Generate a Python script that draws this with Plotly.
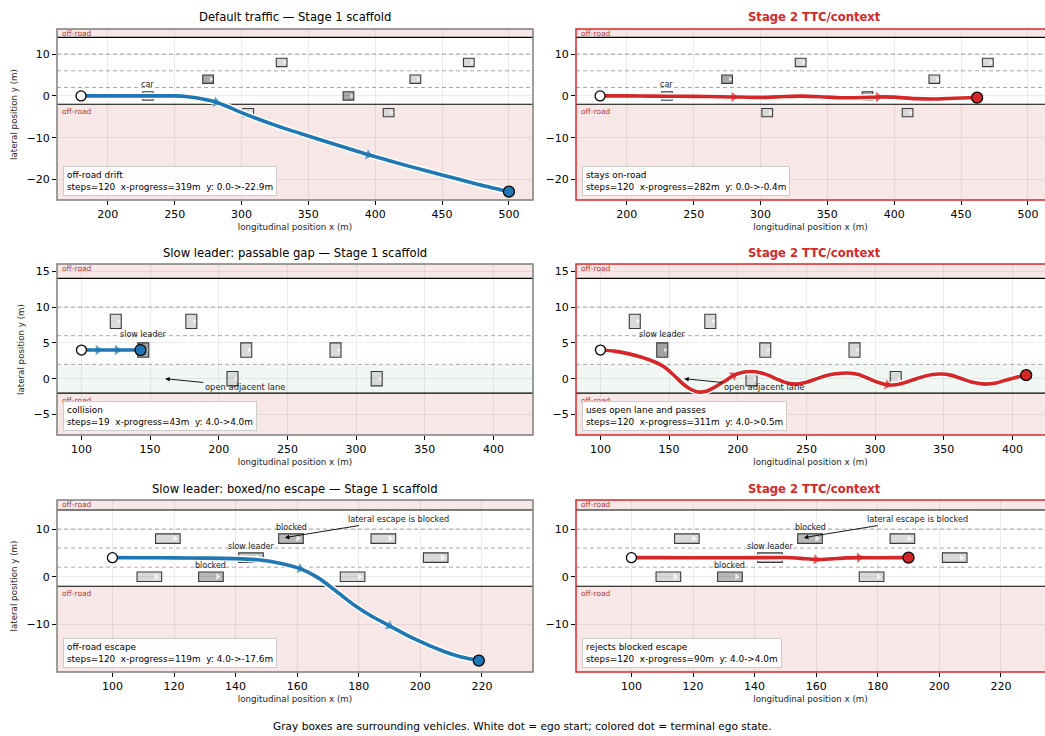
import plotly.graph_objects as go

# ------------------------------------------------------------------ data
BLUE = "#1f77b4"
RED = "#d62728"

# --- scenario 1: default traffic
s1_veh_x = [230, 275, 305, 330, 380, 410, 430, 470]
s1_veh_y = [0, 4, -4, 8, 0, -4, 4, 8]
s1_veh_role = ["other", "near", "other", "other", "near", "other", "other", "other"]
s1_lab_text = ["car"]
s1_lab_x = [230]
s1_lab_y = [2.7]
s1_a_x = [180, 200, 220, 240, 250, 260, 270, 281, 290, 300, 325, 350, 375, 395, 425, 450, 475, 500]
s1_a_y = [0, 0, 0, 0, 0, -0.2, -0.7, -1.5, -2.6, -4.0, -7.0, -9.6, -12.1, -14.1, -16.8, -18.9, -21.0, -22.9]
s1_a_arrows = [7, 13]
s1_b_x = [180, 200, 220, 240, 260, 280, 300, 315, 330, 345, 360, 375, 388, 400, 415, 430, 445, 462]
s1_b_y = [0, 0, -0.05, -0.1, -0.15, -0.25, -0.35, -0.2, -0.05, -0.2, -0.45, -0.4, -0.25, -0.3, -0.65, -0.75, -0.55, -0.4]
s1_b_arrows = [5, 12]

# --- scenario 2: slow leader, passable gap
s2_veh_x = [125, 180, 145, 220, 285, 210, 315]
s2_veh_y = [8, 8, 4, 4, 4, 0, 0]
s2_veh_role = ["other", "other", "lead", "other", "other", "other", "other"]
s2_lab_text = ["slow leader"]
s2_lab_x = [145]
s2_lab_y = [6.1]
s2_a_x = [100, 112, 126, 143]
s2_a_y = [4.0, 4.0, 4.0, 4.0]
s2_a_arrows = [1, 2]
s2_b_x = [100, 110, 120, 130, 140, 146, 150, 155, 160, 165, 171, 177, 183, 190, 197, 203, 209, 215, 222,
          229, 236, 243, 250, 256, 263, 270, 280, 288, 295, 302, 309, 316, 323, 330, 336, 342, 348, 355,
          363, 371, 380, 388, 395, 403, 410]
s2_b_y = [4.0, 3.85, 3.5, 3.0, 2.3, 1.7, 1.1, 0.2, -0.7, -1.4, -1.85, -1.75, -1.2, -0.4, 0.45, 0.85, 1.0, 0.9, 0.5,
          -0.1, -0.6, -0.75, -0.5, -0.1, 0.35, 0.65, 0.8, 0.6, 0.05, -0.5, -0.85, -0.8, -0.45, 0.0, 0.35, 0.6, 0.65, 0.5,
          0.0, -0.5, -0.75, -0.6, -0.2, 0.2, 0.5]
s2_b_arrows = [14, 30]

# --- scenario 3: slow leader, boxed / no escape
s3_veh_x = [118, 112, 132, 145, 158, 178, 188, 205]
s3_veh_y = [8, 0, 0, 4, 8, 0, 8, 4]
s3_veh_role = ["other", "other", "blocked", "lead3", "blocked", "other", "other", "other"]
s3_lab_text = ["blocked", "slow leader", "blocked"]
s3_lab_x = [158, 145, 132]
s3_lab_y = [10.4, 6.4, 2.4]
s3_a_x = [100, 110, 120, 130, 140, 148, 154, 161, 167, 173, 178.6, 184.2, 190, 197.6, 207.7, 213, 219]
s3_a_y = [4.0, 3.98, 3.95, 3.9, 3.8, 3.5, 2.9, 1.7, -0.3, -3.2, -6.0, -8.3, -10.3, -12.9, -15.7, -16.8, -17.6]
s3_a_arrows = [7, 12]
s3_b_x = [100, 110, 120, 130, 140, 150, 155, 160, 165, 170, 174, 180, 185, 190]
s3_b_y = [4.0, 4.0, 3.98, 3.97, 4.0, 4.02, 3.85, 3.6, 3.75, 3.95, 4.0, 3.97, 4.0, 4.0]
s3_b_arrows = [7, 10]

titles_left = ["Default traffic — Stage 1 scaffold",
               "Slow leader: passable gap — Stage 1 scaffold",
               "Slow leader: boxed/no escape — Stage 1 scaffold"]
title_right = "Stage 2 TTC/context"
notes_a = [("off-road drift", "steps=120  x-progress=319m  y: 0.0->-22.9m"),
           ("collision", "steps=19  x-progress=43m  y: 4.0->4.0m"),
           ("off-road escape", "steps=120  x-progress=119m  y: 4.0->-17.6m")]
notes_b = [("stays on-road", "steps=120  x-progress=282m  y: 0.0->-0.4m"),
           ("uses open lane and passes", "steps=120  x-progress=311m  y: 4.0->0.5m"),
           ("rejects blocked escape", "steps=120  x-progress=90m  y: 4.0->4.0m")]

road_lo, road_hi = -2, 14
lane_lines = [2, 6, 10]
VEH_LEN, VEH_WID = 8.0, 2.0

x_ticks = [list(range(200, 501, 50)), list(range(100, 401, 50)), list(range(100, 221, 20))]
y_ticks = [[-20, -10, 0, 10], [-5, 0, 5, 10, 15], [-10, 0, 10]]
x_ranges = [[162, 518], [82.2, 428.8], [82.0, 236.6]]
y_ranges = [[-24.9, 16.0], [-7.85, 16.0], [-20.0, 16.1]]

# ------------------------------------------------------------------ layout geometry
W, H = 1045, 736
FONT = "DejaVu Sans"
colL = (57 / W, 533 / W)
colR = (576 / W, 1.0)
rows = [(1 - 200 / H, 1 - 29 / H), (1 - 435 / H, 1 - 264 / H), (1 - 672 / H, 1 - 500 / H)]
title_y_px = [17, 253, 489]

role_fill = {"other": "#d9d9d9", "near": "#a9a9a9", "lead": "#a3a3a3",
             "blocked": "#b8b8b8", "lead3": "#c9c9c9"}
GRID = "rgba(0,0,0,0.075)"

fig = go.Figure()
shapes, annotations = [], []

scen = [
    (s1_veh_x, s1_veh_y, s1_veh_role, s1_lab_text, s1_lab_x, s1_lab_y,
     (s1_a_x, s1_a_y, s1_a_arrows), (s1_b_x, s1_b_y, s1_b_arrows), None),
    (s2_veh_x, s2_veh_y, s2_veh_role, s2_lab_text, s2_lab_x, s2_lab_y,
     (s2_a_x, s2_a_y, s2_a_arrows), (s2_b_x, s2_b_y, s2_b_arrows), "open"),
    (s3_veh_x, s3_veh_y, s3_veh_role, s3_lab_text, s3_lab_x, s3_lab_y,
     (s3_a_x, s3_a_y, s3_a_arrows), (s3_b_x, s3_b_y, s3_b_arrows), "boxed"),
]

layout_axes = {}
idx = 0
for r, (vx, vy, vrole, lt, lx, ly, trajA, trajB, extra) in enumerate(scen):
    for c in range(2):
        idx += 1
        xa = "x" if idx == 1 else f"x{idx}"
        ya = "y" if idx == 1 else f"y{idx}"
        xkey = "xaxis" if idx == 1 else f"xaxis{idx}"
        ykey = "yaxis" if idx == 1 else f"yaxis{idx}"
        dom_x = colL if c == 0 else colR
        dom_y = rows[r]
        xr = list(x_ranges[r])
        if c == 1:
            span_units = xr[1] - xr[0]
            full_px = (colL[1] - colL[0]) * W
            vis_px = (colR[1] - colR[0]) * W
            xr = [xr[0], xr[0] + span_units * vis_px / full_px]
        yr = y_ranges[r]
        layout_axes[xkey] = dict(domain=list(dom_x), range=xr, anchor=ya, tickvals=x_ticks[r],
                                 ticks="outside", ticklen=4, tickwidth=0.8, tickcolor="black",
                                 showline=False, zeroline=False, showgrid=True, gridcolor=GRID,
                                 gridwidth=0.8, tickfont=dict(size=11, color="black", family=FONT),
                                 title=dict(text="longitudinal position x (m)", standoff=3,
                                            font=dict(size=8.7, color="#222", family=FONT)),
                                 automargin=False, fixedrange=True)
        layout_axes[ykey] = dict(domain=list(dom_y), range=yr, anchor=xa, tickvals=y_ticks[r],
                                 ticks="outside", ticklen=4, tickwidth=0.8, tickcolor="black",
                                 showline=False, zeroline=False, showgrid=True, gridcolor=GRID,
                                 gridwidth=0.8, tickfont=dict(size=11, color="black", family=FONT),
                                 title=dict(text="lateral position y (m)" if c == 0 else "", standoff=7,
                                            font=dict(size=8.7, color="#222", family=FONT)),
                                 automargin=False, fixedrange=True)

        # off-road fills
        shapes.append(dict(type="rect", xref=xa, yref=ya, x0=xr[0], x1=xr[1], y0=road_hi, y1=yr[1],
                           fillcolor="#f8e7e7", line=dict(width=0), layer="below"))
        shapes.append(dict(type="rect", xref=xa, yref=ya, x0=xr[0], x1=xr[1], y0=yr[0], y1=road_lo,
                           fillcolor="#f8e7e7", line=dict(width=0), layer="below"))
        if extra == "open":
            shapes.append(dict(type="rect", xref=xa, yref=ya, x0=xr[0], x1=xr[1], y0=road_lo, y1=lane_lines[0],
                               fillcolor="#f1f8f3", line=dict(width=0), layer="below"))
        for yl in lane_lines:
            shapes.append(dict(type="line", xref=xa, yref=ya, x0=xr[0], x1=xr[1], y0=yl, y1=yl,
                               line=dict(color="#a8a8a8", width=1, dash="4px,3px"), layer="below"))
        for yl in (road_lo, road_hi):
            shapes.append(dict(type="line", xref=xa, yref=ya, x0=xr[0], x1=xr[1], y0=yl, y1=yl,
                               line=dict(color="black", width=1.2), layer="below"))
        # vehicles
        for x0, y0, rl in zip(vx, vy, vrole):
            shapes.append(dict(type="rect", xref=xa, yref=ya,
                               x0=x0 - VEH_LEN / 2, x1=x0 + VEH_LEN / 2,
                               y0=y0 - VEH_WID / 2, y1=y0 + VEH_WID / 2,
                               fillcolor=role_fill[rl], line=dict(color="#3a3a3a", width=1.1),
                               layer="below"))
        fig.add_trace(go.Scatter(x=[v + VEH_LEN * 0.28 for v in vx], y=vy, xaxis=xa, yaxis=ya, mode="markers",
                                 marker=dict(symbol="triangle-right", size=6 if r == 2 else 4,
                                             color="rgba(255,255,255,0.75)", line=dict(width=0)),
                                 hoverinfo="skip", showlegend=False))
        # labels on vehicles
        for t, x0, y0 in zip(lt, lx, ly):
            annotations.append(dict(text=t, x=x0, y=y0, xref=xa, yref=ya, showarrow=False,
                                    xanchor="center", font=dict(size=8, color="#222", family=FONT)))
        # arrow callouts
        if extra == "open":
            annotations.append(dict(text="open adjacent lane", x=161, y=0, ax=219, ay=-1.1, xref=xa, yref=ya,
                                    axref=xa, ayref=ya, showarrow=True, arrowhead=2, arrowsize=1,
                                    arrowwidth=0.9, arrowcolor="black",
                                    font=dict(size=8.4, color="#222", family=FONT)))
        if extra == "boxed":
            annotations.append(dict(text="lateral escape is blocked", x=156, y=8.2, ax=193, ay=12.1,
                                    xref=xa, yref=ya, axref=xa, ayref=ya, showarrow=True, arrowhead=2,
                                    arrowsize=1, arrowwidth=0.9, arrowcolor="black",
                                    font=dict(size=8.2, color="#222", family=FONT)))
        # off-road labels
        annotations.append(dict(text="off-road", x=0.006, y=yr[1], xref=f"{xa} domain", yref=ya,
                                xanchor="left", yanchor="top", showarrow=False, yshift=2,
                                font=dict(size=7.5, color="rgba(165,35,35,0.9)", family=FONT)))
        annotations.append(dict(text="off-road", x=0.006, y=road_lo, xref=f"{xa} domain", yref=ya,
                                xanchor="left", yanchor="top", showarrow=False, yshift=-1,
                                font=dict(size=7.5, color="rgba(165,35,35,0.9)", family=FONT)))

        # trajectory
        tx, ty, arr = trajA if c == 0 else trajB
        col = BLUE if c == 0 else RED
        fig.add_trace(go.Scatter(x=tx, y=ty, xaxis=xa, yaxis=ya, mode="lines",
                                 line=dict(color="white", width=6.5, shape="spline", smoothing=0.6),
                                 hoverinfo="skip", showlegend=False))
        sizes = [9 if i in arr else 0 for i in range(len(tx))]
        fig.add_trace(go.Scatter(x=tx, y=ty, xaxis=xa, yaxis=ya, mode="lines+markers",
                                 line=dict(color=col, width=3.6, shape="spline", smoothing=0.6),
                                 marker=dict(symbol="triangle-up", size=sizes, color=col,
                                             angleref="previous", line=dict(width=0)),
                                 hoverinfo="skip", showlegend=False))
        fig.add_trace(go.Scatter(x=[tx[0]], y=[ty[0]], xaxis=xa, yaxis=ya, mode="markers",
                                 marker=dict(size=10, color="white", line=dict(color="black", width=1.3)),
                                 hoverinfo="skip", showlegend=False))
        fig.add_trace(go.Scatter(x=[tx[-1]], y=[ty[-1]], xaxis=xa, yaxis=ya, mode="markers",
                                 marker=dict(size=11, color=col, line=dict(color="black", width=1.3)),
                                 hoverinfo="skip", showlegend=False))

        # note box
        n1, n2 = notes_a[r] if c == 0 else notes_b[r]
        annotations.append(dict(text=n1 + "<br>" + n2.replace("  ", " \u00a0"), x=0.012, y=0.025,
                                xref=f"{xa} domain", yref=f"{ya} domain", xanchor="left", yanchor="bottom",
                                align="left", showarrow=False, bgcolor="rgba(255,255,255,0.92)",
                                bordercolor="#cccccc", borderwidth=1, borderpad=3,
                                font=dict(size=8.9, color="black", family=FONT)))

        # frame
        fcol = "#7f7f7f" if c == 0 else RED
        shapes.append(dict(type="rect", xref="paper", yref="paper", x0=dom_x[0],
                           x1=dom_x[1] if c == 0 else 1.01, y0=dom_y[0], y1=dom_y[1],
                           line=dict(color=fcol, width=1.5), fillcolor="rgba(0,0,0,0)", layer="above"))

        # titles
        if c == 0:
            annotations.append(dict(text=titles_left[r], x=(dom_x[0] + dom_x[1]) / 2, y=1 - title_y_px[r] / H,
                                    xref="paper", yref="paper", showarrow=False, xanchor="center",
                                    yanchor="middle", font=dict(size=11.6, color="black", family=FONT)))
        else:
            center = dom_x[0] + (colL[1] - colL[0]) / 2
            annotations.append(dict(text="<b>" + title_right + "</b>", x=center, y=1 - title_y_px[r] / H,
                                    xref="paper", yref="paper", showarrow=False, xanchor="center",
                                    yanchor="middle", font=dict(size=11.6, color=RED, family=FONT)))

annotations.append(dict(text="Gray boxes are surrounding vehicles. White dot = ego start; colored dot = terminal ego state.",
                        x=0.5, y=1 - 726 / H, xref="paper", yref="paper", showarrow=False, xanchor="center",
                        yanchor="middle", font=dict(size=10.6, color="black", family=FONT)))

fig.update_layout(width=W, height=H, margin=dict(l=0, r=0, t=0, b=0), plot_bgcolor="white",
                  paper_bgcolor="white", showlegend=False, shapes=shapes, annotations=annotations,
                  font=dict(family=FONT), **layout_axes)

fig.write_html("out.html", config={"displayModeBar": False},
               post_script="document.body.style.margin='0';document.body.style.overflow='hidden';")
